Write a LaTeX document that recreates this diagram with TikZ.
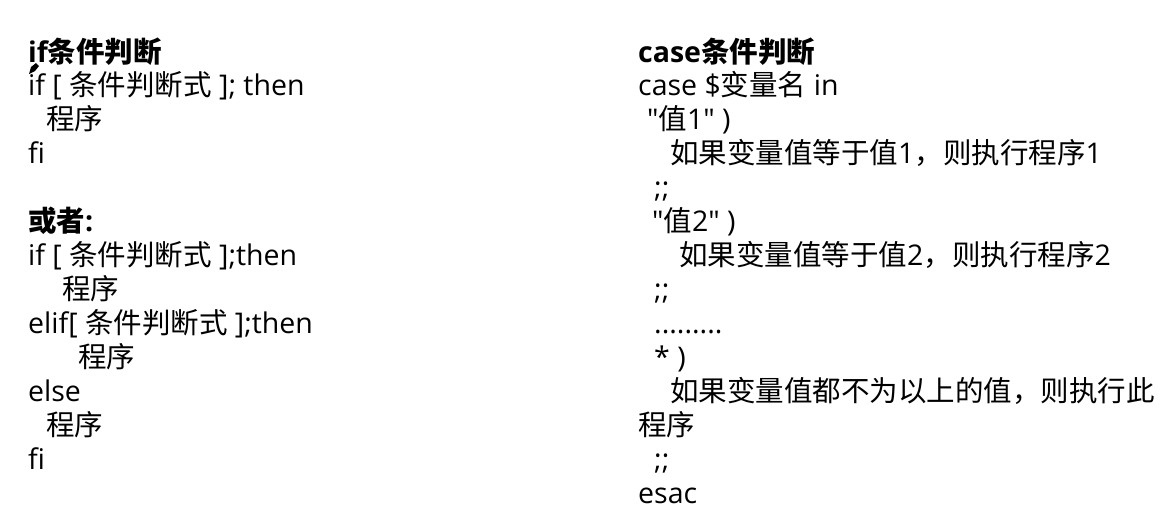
\documentclass[tikz,border=0pt]{standalone}
\usepackage{fontspec}
\setmainfont{Open Sans}[Ligatures=TeXOff]
\newfontfamily\cjk{Noto Sans CJK SC}[Ligatures=TeXOff]
\newcommand{\zh}[1]{{\cjk #1}}
\begin{document}
\begin{tikzpicture}[x=1pt,y=-1pt,
  ln/.style={anchor=base west,inner sep=0pt,font=\fontsize{28.5}{31}\selectfont},
  hd/.style={ln,font=\fontsize{28.5}{31}\selectfont\bfseries}]
\useasboundingbox[fill=white] (0,0) rectangle (1173,515);
% left column
\node[hd] (l1) at (28,62) {if\zh{条件判断}};
\node[ln] (l2) at (28,95) {if [ \zh{条件判断式} ]; then};
\node[ln] (l3) at (46,129) {\zh{程序}};
\node[ln] (l4) at (28,163) {fi};
\node[hd] (l5) at (28,231) {\zh{或者}:};
\node[ln] (l6) at (28,265) {if [ \zh{条件判断式} ];then};
\node[ln] (l7) at (62,299) {\zh{程序}};
\node[ln] (l8) at (28,333) {elif[ \zh{条件判断式} ];then};
\node[ln] (l9) at (78,367) {\zh{程序}};
\node[ln] (l10) at (28,401) {else};
\node[ln] (l11) at (46,435) {\zh{程序}};
\node[ln] (l12) at (28,469) {fi};
% cursor mark
\fill[black] (29,74) -- (31,67) -- (36,63) -- (39,66) -- (35,71) -- cycle;
% right column
\node[hd] (r1) at (638,62) {case\zh{条件判断}};
\node[ln] (r2) at (638,95) {case \$\zh{变量名} in};
\node[ln] (r3) at (647,129) {"\zh{值}1" )};
\node[ln] (r4) at (670,163) {\zh{如果变量值等于值}1\zh{，则执行程序}1};
\node[ln] (r5) at (654,197) {;;};
\node[ln] (r6) at (652,231) {"\zh{值}2" )};
\node[ln] (r7) at (679,265) {\zh{如果变量值等于值}2\zh{，则执行程序}2};
\node[ln] (r8) at (654,299) {;;};
\node[ln] (r9) at (654,333) {.........};
\node[ln] (r10) at (654,367) {* )};
\node[ln] (r11) at (670,401) {\zh{如果变量值都不为以上的值，则执行此}};
\node[ln] (r12) at (638,435) {\zh{程序}};
\node[ln] (r13) at (654,469) {;;};
\node[ln] (r14) at (638,503) {esac};
\end{tikzpicture}
\end{document}
